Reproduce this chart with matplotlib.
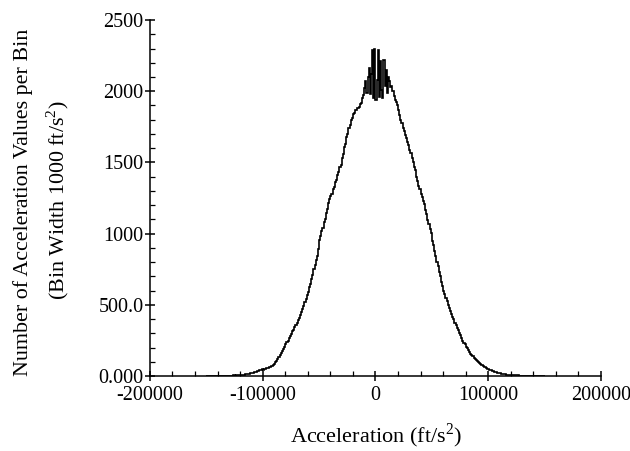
import numpy as np
import matplotlib
matplotlib.use("Agg")
import matplotlib.pyplot as plt
from matplotlib.ticker import MultipleLocator, FixedLocator, FixedFormatter

plt.rcParams['font.family'] = ['Liberation Serif', 'DejaVu Serif']
plt.rcParams['mathtext.fontset'] = 'custom'
plt.rcParams['mathtext.rm'] = 'Liberation Serif'

# Histogram: bin width 1000 ft/s^2, first bin starts at -150000
bin_start = -150000
bin_width = 1000

counts_left_tail = [0, 0, 0, 1, 0, 0, 1, 0, 1, 0,
                    1, 0, 1, 1, 2, 1, 1, 2, 1, 2,
                    2, 3, 2, 3, 4, 3, 4, 5, 5, 6,
                    7, 8, 8, 10, 11, 12, 14, 15, 17, 19,
                    22, 24, 26, 29, 31, 33, 37, 39, 42, 46]
counts_left_slope = [45, 48, 50, 53, 55, 59, 62, 67, 70, 76,
                     82, 95, 104, 120, 130, 144, 162, 174, 192, 204,
                     222, 238, 248, 268, 280, 294, 315, 326, 346, 358,
                     372, 392, 405, 430, 446, 472, 490, 518, 538, 566,
                     592, 622, 648, 684, 708, 748, 778, 818, 846, 890,
                     955, 980, 1020, 1040, 1080, 1100, 1145, 1170, 1215, 1240,
                     1262, 1280, 1315, 1330, 1365, 1380, 1415, 1430, 1465, 1485,
                     1530, 1560, 1605, 1630, 1675, 1700, 1745, 1765, 1800, 1810,
                     1840, 1845, 1865, 1866, 1885, 1888, 1910, 1920, 1955, 1970]
counts_center = [2020, 2070, 1990, 2100, 2160, 1980, 2120, 2290, 1950, 2300,
                 1940, 2080, 2290, 1960, 2210, 2010, 1950, 2220, 2040, 2150,
                 1990, 2100, 2070, 2030, 2040, 2000, 1965, 1940, 1925, 1900]
counts_right_slope = [1870, 1835, 1800, 1775, 1740, 1720, 1690, 1670, 1640, 1620,
                      1590, 1565, 1530, 1505, 1470, 1445, 1400, 1370, 1335, 1310,
                      1280, 1260, 1230, 1205, 1165, 1135, 1095, 1070, 1035, 1005,
                      950, 920, 875, 845, 800, 770, 730, 700, 660, 635,
                      600, 578, 550, 528, 500, 480, 456, 438, 415, 398,
                      375, 358, 336, 320, 300, 285, 266, 245, 235, 222,
                      206, 195, 180, 170, 157, 148, 137, 129, 118, 112,
                      102, 96, 88, 83, 76, 71, 65, 61, 55, 52,
                      47, 44, 39, 37, 33, 31, 27, 25, 22, 20]
counts_right_tail = [18, 16, 14, 13, 12, 11, 10, 9, 8, 8,
                     7, 7, 6, 5, 5, 4, 4, 3, 3, 3,
                     2, 3, 2, 2, 1, 2, 1, 1, 1, 0,
                     1, 0, 1, 0, 0, 1, 0, 0, 0, 0]

counts = np.array(counts_left_tail + counts_left_slope + counts_center
                  + counts_right_slope + counts_right_tail, dtype=float)
edges = bin_start + bin_width * np.arange(len(counts) + 1)

x_ticks = [-200000, -100000, 0, 100000, 200000]
x_tick_labels = ["-200000", "-100000", "0", "100000", "200000"]
y_ticks = [0, 500, 1000, 1500, 2000, 2500]
y_tick_labels = ["0.000", "500.0", "1000", "1500", "2000", "2500"]

fig = plt.figure(figsize=(6.30, 4.51), dpi=100)
ax = fig.add_axes([0.238, 0.1663, 0.716, 0.7893])

ax.stairs(counts, edges, color='black', linewidth=1.2)

ax.set_xlim(-200000, 200000)
ax.set_ylim(0, 2500)

ax.xaxis.set_major_locator(FixedLocator(x_ticks))
ax.xaxis.set_major_formatter(FixedFormatter(x_tick_labels))
ax.xaxis.set_minor_locator(MultipleLocator(20000))
ax.yaxis.set_major_locator(FixedLocator(y_ticks))
ax.yaxis.set_major_formatter(FixedFormatter(y_tick_labels))
ax.yaxis.set_minor_locator(MultipleLocator(100))

for s in ['top', 'right']:
    ax.spines[s].set_visible(False)
for s in ['left', 'bottom']:
    ax.spines[s].set_linewidth(1.1)

ax.tick_params(which='major', direction='inout', length=7, width=1.1,
               labelsize=14.5)
ax.tick_params(axis='x', which='major', pad=4)
ax.tick_params(axis='y', which='major', pad=1)
ax.tick_params(which='minor', direction='in', length=3.5, width=0.9)

fig.text(376/630, 1 - 436/451, r"Acceleration (ft/s$^2$)", ha='center',
         va='center', fontsize=16)
fig.text(23/630, 1 - 202/451, "Number of Acceleration Values per Bin",
         ha='center', va='center', rotation=90, fontsize=15.8)
fig.text(58/630, 1 - 200/451, r"(Bin Width 1000 ft/s$^2$)",
         ha='center', va='center', rotation=90, fontsize=15.8)

fig.savefig("out.png", dpi=100)
